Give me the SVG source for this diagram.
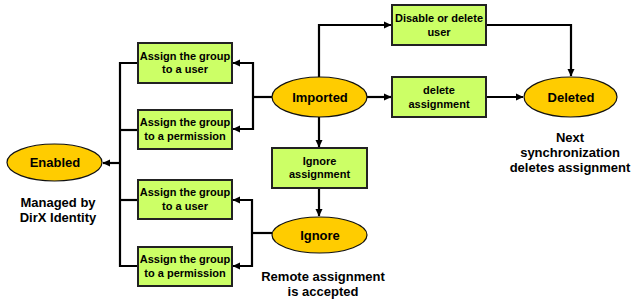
<svg xmlns="http://www.w3.org/2000/svg" width="643" height="307" viewBox="0 0 643 307">
<style>
.box{fill:#CCFF66;stroke:#222;stroke-width:2}
.ell{fill:#FFCC00;stroke:#111;stroke-width:1.2}
.bt{font-family:"Liberation Sans",Arial,sans-serif;font-weight:bold;font-size:11px;fill:#000;text-anchor:middle}
.et{font-family:"Liberation Sans",Arial,sans-serif;font-weight:bold;font-size:13px;fill:#000;text-anchor:middle}
.ct{font-family:"Liberation Sans",Arial,sans-serif;font-weight:bold;font-size:13px;fill:#000;text-anchor:middle}
.ln{fill:none;stroke:#000;stroke-width:2.2}
</style>
<defs>
<marker id="ah" markerWidth="8" markerHeight="8" refX="7" refY="4" orient="auto" markerUnits="userSpaceOnUse">
<path d="M0,0.5 L7.5,4 L0,7.5 Z" fill="#000"/>
</marker>
</defs>
<rect width="643" height="307" fill="#fff"/>
<g id="connectors">
<path class="ln" d="M138,63 H120 V266 H138"/>
<path class="ln" d="M120,130 H138"/>
<path class="ln" d="M120,200 H138"/>
<path class="ln" d="M120,163 H103" marker-end="url(#ah)"/>
<path class="ln" d="M272,97 H253"/>
<path class="ln" d="M253,97 V63 H233" marker-end="url(#ah)"/>
<path class="ln" d="M253,97 V129 H233" marker-end="url(#ah)"/>
<path class="ln" d="M272,233 H252"/>
<path class="ln" d="M252,233 V200 H233" marker-end="url(#ah)"/>
<path class="ln" d="M252,233 V266 H233" marker-end="url(#ah)"/>
<path class="ln" d="M319,77 V25 H391" marker-end="url(#ah)"/>
<path class="ln" d="M367,97 H391" marker-end="url(#ah)"/>
<path class="ln" d="M319,117 V147" marker-end="url(#ah)"/>
<path class="ln" d="M319,188 V216" marker-end="url(#ah)"/>
<path class="ln" d="M486,25 H571 V76" marker-end="url(#ah)"/>
<path class="ln" d="M486,97 H523" marker-end="url(#ah)"/>
</g>
<g id="enabled">
<ellipse class="ell" cx="54.5" cy="162.5" rx="47.5" ry="18.5"/>
<text class="et" x="55" y="167">Enabled</text>
</g>
<g id="assign-user-top">
<rect class="box" x="138" y="43" width="94" height="40"/>
<text class="bt" x="185" y="60">Assign the group</text>
<text class="bt" x="185" y="73">to a user</text>
</g>
<g id="assign-perm-top">
<rect class="box" x="138" y="110" width="94" height="39"/>
<text class="bt" x="185" y="126">Assign the group</text>
<text class="bt" x="185" y="140">to a permission</text>
</g>
<g id="assign-user-bottom">
<rect class="box" x="138" y="180" width="94" height="39"/>
<text class="bt" x="185" y="196">Assign the group</text>
<text class="bt" x="185" y="210">to a user</text>
</g>
<g id="assign-perm-bottom">
<rect class="box" x="138" y="247" width="94" height="39"/>
<text class="bt" x="185" y="263">Assign the group</text>
<text class="bt" x="185" y="277">to a permission</text>
</g>
<g id="imported">
<ellipse class="ell" cx="319.5" cy="97" rx="47.5" ry="20"/>
<text class="et" x="320" y="102">Imported</text>
</g>
<g id="ignore-assignment">
<rect class="box" x="272" y="148" width="95" height="40"/>
<text class="bt" x="319.5" y="165">Ignore</text>
<text class="bt" x="319.5" y="178">assignment</text>
</g>
<g id="ignore">
<ellipse class="ell" cx="319.5" cy="235" rx="47.5" ry="18"/>
<text class="et" x="320" y="240">Ignore</text>
</g>
<g id="disable-delete-user">
<rect class="box" x="392" y="5" width="94" height="40"/>
<text class="bt" x="439" y="22">Disable or delete</text>
<text class="bt" x="439" y="36">user</text>
</g>
<g id="delete-assignment">
<rect class="box" x="392" y="77" width="94" height="40"/>
<text class="bt" x="439" y="94">delete</text>
<text class="bt" x="439" y="108">assignment</text>
</g>
<g id="deleted">
<ellipse class="ell" cx="570.5" cy="97" rx="46.5" ry="20"/>
<text class="et" x="571" y="102">Deleted</text>
</g>
<g id="captions">
<text class="ct" x="58" y="207">Managed by</text>
<text class="ct" x="58" y="222">DirX Identity</text>
<text class="ct" x="323" y="281">Remote assignment</text>
<text class="ct" x="323" y="296">is accepted</text>
<text class="ct" x="570" y="142">Next</text>
<text class="ct" x="570" y="157">synchronization</text>
<text class="ct" x="570" y="172">deletes assignment</text>
</g>
</svg>
